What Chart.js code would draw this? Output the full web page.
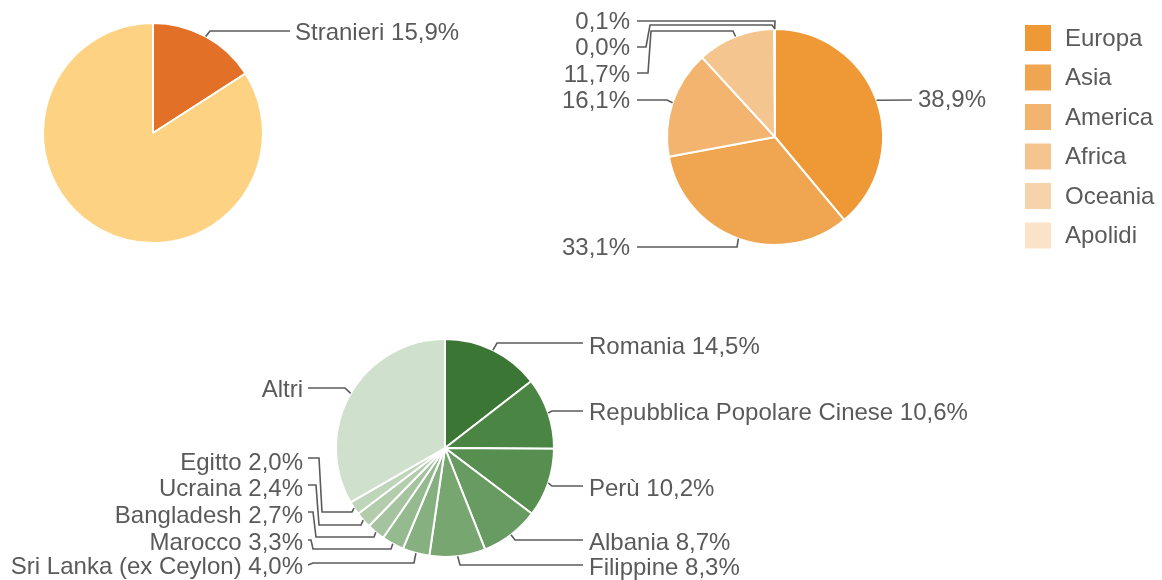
<!DOCTYPE html>
<html>
<head>
<meta charset="utf-8">
<script src="https://cdn.jsdelivr.net/npm/chart.js@4"></script>
<style>
body { margin: 0; background: #fff; width: 1162px; height: 580px; position: relative; overflow: hidden; }
canvas { position: absolute; }
</style>
</head>
<body>
<canvas id="pie1" width="520" height="270" style="left:0;top:0"></canvas>
<canvas id="pie2" width="622" height="280" style="left:540px;top:0"></canvas>
<canvas id="pie3" width="1162" height="290" style="left:0;top:290px"></canvas>
<script>
// residenti: italiani / stranieri
const residentLabels = ['Stranieri', 'Italiani'];
const residentValues = [15.9, 84.1];
const residentColors = ['#e27027', '#fdd383'];

// stranieri per continente
const continentLabels = ['Europa', 'Asia', 'America', 'Africa', 'Oceania', 'Apolidi'];
const continentValues = [38.9, 33.1, 16.1, 11.7, 0.1, 0.0];
const continentColors = ['#ef9836', '#f0a650', '#f2b46e', '#f5c58f', '#f7d3ab', '#fbe3c9'];

// stranieri per paese
const countryLabels = ['Romania', 'Repubblica Popolare Cinese', 'Perù', 'Albania', 'Filippine',
    'Sri Lanka (ex Ceylon)', 'Marocco', 'Bangladesh', 'Ucraina', 'Egitto', 'Altri'];
const countryValues = [14.5, 10.6, 10.2, 8.7, 8.3, 4.0, 3.3, 2.7, 2.4, 2.0, 33.3];
const countryColors = ['#3b7634', '#4a8543', '#578f50', '#689b61', '#78a670', '#87b080',
    '#96ba8f', '#a4c39e', '#b2ccac', '#bfd5ba', '#cfe0cc'];

const FONT = '24px "Liberation Sans", Arial, sans-serif';
const TEXT = '#5a5a5a';
const LINE = '#5b5b5b';

const pct = v => v.toFixed(1).replace('.', ',') + '%';

// labels with leader lines, path points in page coordinates
function leaders(items, ox, oy) {
    return {
        id: 'leaders',
        afterDatasetsDraw(chart) {
            const ctx = chart.ctx;
            const arcs = chart.getDatasetMeta(0).data;
            ctx.save();
            ctx.strokeStyle = LINE;
            ctx.lineWidth = 1.6;
            ctx.fillStyle = TEXT;
            ctx.font = FONT;
            ctx.textBaseline = 'middle';
            items.forEach(it => {
                const arc = arcs[it.index];
                const mid = (arc.startAngle + arc.endAngle) / 2;
                const ex = arc.x + Math.cos(mid) * arc.outerRadius;
                const ey = arc.y + Math.sin(mid) * arc.outerRadius;
                ctx.beginPath();
                it.path.forEach((p, k) => {
                    if (k === 0) ctx.moveTo(p[0] - ox, p[1] - oy);
                    else ctx.lineTo(p[0] - ox, p[1] - oy);
                });
                ctx.lineTo(ex, ey);
                ctx.stroke();
                ctx.textAlign = it.align;
                ctx.fillText(it.text, it.x - ox, it.y - oy);
            });
            ctx.restore();
        }
    };
}

const continentLegend = {
    id: 'continentLegend',
    afterDraw(chart) {
        const ctx = chart.ctx;
        const ox = 540;
        ctx.save();
        ctx.font = FONT;
        ctx.textBaseline = 'middle';
        ctx.textAlign = 'left';
        continentLabels.forEach((lab, i) => {
            const top = 25 + i * 39.5;
            ctx.fillStyle = continentColors[i];
            ctx.fillRect(1025 - ox, top, 26, 26);
            ctx.fillStyle = TEXT;
            ctx.fillText(lab, 1065 - ox, top + 14);
        });
        ctx.restore();
    }
};

function pieOptions(radius, padding) {
    return {
        responsive: false,
        animation: false,
        radius: radius,
        layout: { padding: padding },
        plugins: { legend: { display: false }, tooltip: { enabled: false } },
        events: []
    };
}

new Chart(document.getElementById('pie1'), {
    type: 'pie',
    data: {
        labels: residentLabels,
        datasets: [{ data: residentValues, backgroundColor: residentColors, borderColor: '#fff', borderWidth: 2, hoverOffset: 0 }]
    },
    options: pieOptions(110, { left: 43, right: 257, top: 23, bottom: 27 }),
    plugins: [leaders([
        { index: 0, text: residentLabels[0] + ' ' + pct(residentValues[0]), x: 295, y: 33, align: 'left', path: [[290, 31], [210, 31]] }
    ], 0, 0)]
});

new Chart(document.getElementById('pie2'), {
    type: 'pie',
    data: {
        labels: continentLabels,
        datasets: [{ data: continentValues, backgroundColor: continentColors, borderColor: '#fff', borderWidth: 2, hoverOffset: 0 }]
    },
    options: pieOptions(108, { left: 127, right: 279, top: 29, bottom: 35 }),
    plugins: [leaders([
        { index: 0, text: pct(continentValues[0]), x: 918, y: 100, align: 'left', path: [[912, 100]] },
        { index: 1, text: pct(continentValues[1]), x: 630, y: 248, align: 'right', path: [[637, 247], [737, 247]] },
        { index: 2, text: pct(continentValues[2]), x: 630, y: 101, align: 'right', path: [[637, 100], [667, 100]] },
        { index: 3, text: pct(continentValues[3]), x: 630, y: 75, align: 'right', path: [[637, 73], [648, 73], [651, 31], [733, 31]] },
        { index: 4, text: pct(continentValues[4]), x: 630, y: 22, align: 'right', path: [[637, 21], [775, 21]] },
        { index: 5, text: pct(continentValues[5]), x: 630, y: 48, align: 'right', path: [[637, 47], [646, 47], [650, 25], [772, 25]] }
    ], 540, 0), continentLegend]
});

const cl = i => countryLabels[i] + ' ' + pct(countryValues[i]);

new Chart(document.getElementById('pie3'), {
    type: 'pie',
    data: {
        labels: countryLabels,
        datasets: [{ data: countryValues, backgroundColor: countryColors, borderColor: '#fff', borderWidth: 2, hoverOffset: 0 }]
    },
    options: pieOptions(109, { left: 336, right: 608, top: 49, bottom: 23 }),
    plugins: [leaders([
        { index: 0, text: cl(0), x: 589, y: 347, align: 'left', path: [[583, 343], [497, 343]] },
        { index: 1, text: cl(1), x: 589, y: 413, align: 'left', path: [[583, 411], [552, 411]] },
        { index: 2, text: cl(2), x: 589, y: 489, align: 'left', path: [[583, 486], [552, 486]] },
        { index: 3, text: cl(3), x: 589, y: 543, align: 'left', path: [[583, 540], [515, 540]] },
        { index: 4, text: cl(4), x: 589, y: 568, align: 'left', path: [[583, 565], [460, 565]] },
        { index: 5, text: cl(5), x: 303, y: 567, align: 'right', path: [[308, 565], [313, 563], [414, 563]] },
        { index: 6, text: cl(6), x: 303, y: 543, align: 'right', path: [[308, 540], [311, 540], [313, 549], [391, 549]] },
        { index: 7, text: cl(7), x: 303, y: 516, align: 'right', path: [[308, 512], [313, 512], [316, 537], [374, 537]] },
        { index: 8, text: cl(8), x: 303, y: 489, align: 'right', path: [[308, 485], [316, 485], [319, 525], [361, 525]] },
        { index: 9, text: cl(9), x: 303, y: 463, align: 'right', path: [[308, 458], [319, 458], [322, 512], [352, 512]] },
        { index: 10, text: countryLabels[10], x: 303, y: 390, align: 'right', path: [[308, 388], [345, 388]] }
    ], 0, 290)]
});
</script>
</body>
</html>
